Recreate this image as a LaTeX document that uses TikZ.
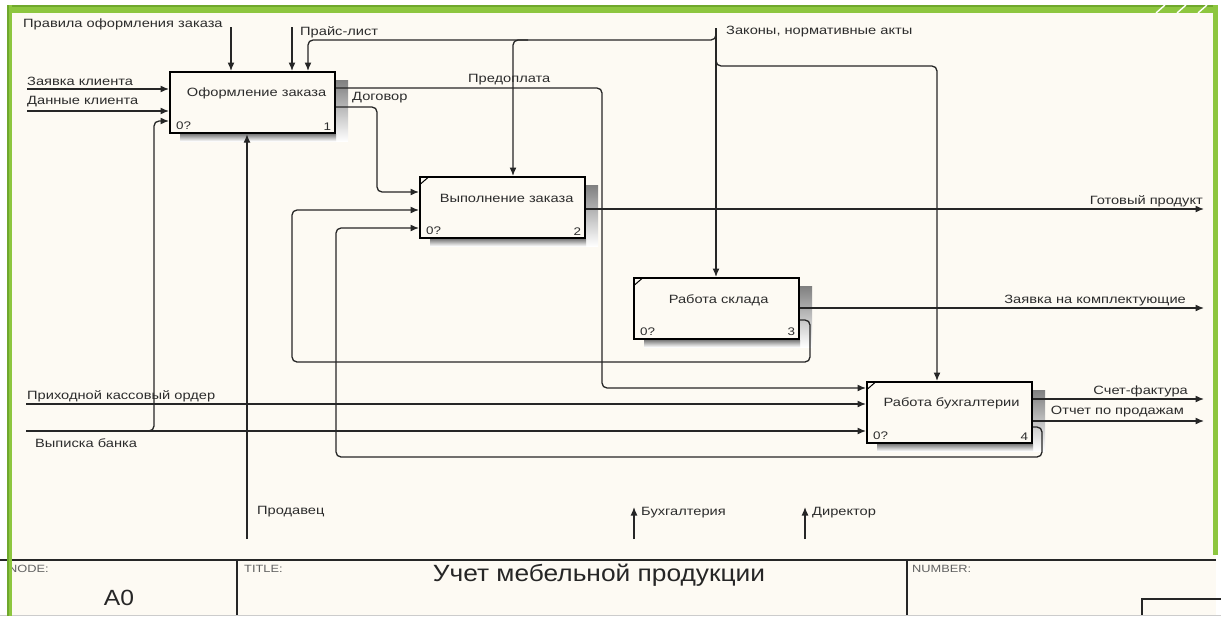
\documentclass[tikz,border=0pt]{standalone}
\usepackage{fontspec}
\setmainfont{Liberation Sans}
\newfontfamily\labfont{Liberation Sans}[FakeStretch=1.22]
\newfontfamily\headfont{Liberation Sans}[FakeStretch=1.12]
\usetikzlibrary{arrows.meta,patterns,calc}

\definecolor{paper}{HTML}{FDFAF3}
\definecolor{ink}{HTML}{262626}
\definecolor{txt}{HTML}{2C2C2C}
\definecolor{frameg}{HTML}{8DC63F}
\definecolor{framegd}{HTML}{6FA82C}
\definecolor{shade}{HTML}{ABABAB}

\tikzset{
  flow/.style={draw=ink, line width=1.3pt, rounded corners=5pt},
  arr/.style={flow, -{Latex[length=8.5pt,width=7pt]}},
  box/.style={draw=black, line width=2.2pt, fill=paper, minimum width=165pt,
    minimum height=61pt, anchor=north west, inner sep=0pt},
  boxtitle/.style={font=\labfont\fontsize{12pt}{14pt}\selectfont, text=txt, inner sep=0pt},
  lab/.style={font=\labfont\fontsize{12pt}{14pt}\selectfont, text=txt, inner sep=0pt},
  num/.style={font=\labfont\fontsize{11pt}{13pt}\selectfont, text=txt, inner sep=0pt},
  corner/.style={draw=black, line width=1pt},
  tb/.style={draw=ink, line width=1.2pt},
  tbsmall/.style={font=\labfont\fontsize{10.5pt}{12pt}\selectfont, text=txt!75, inner sep=0pt},
}

\begin{document}
\begin{tikzpicture}[x=1pt, y=-1pt]
\useasboundingbox (0,0) rectangle (1221,616);
% page and sheet background
\fill[white] (0,0) rectangle (1221,616);
\fill[paper] (10,10) rectangle (1216,616);

% activity boxes
\node[box] (b1) at (169,71) {};
\node[box] (b2) at (419,176) {};
\node[box] (b3) at (633,277) {};
\node[box] (b4) at (866,381) {};

% shaded shadows on the right and bottom sides
\foreach \b in {b1,b2,b3,b4}{
  \fill[shade] ($(\b.north east)+(0,9)$) rectangle ($(\b.south east)+(12,7)$);
  \fill[shade] ($(\b.south west)+(11,0)$) rectangle ($(\b.south east)+(0,7)$);
}
\node[box, fill=none] at (169,71) {};
\node[box, fill=none] at (419,176) {};
\node[box, fill=none] at (633,277) {};
\node[box, fill=none] at (866,381) {};

% box titles and numbers
\node[boxtitle] (b1t) at ($(b1.center)+(4,-9)$) {Оформление заказа};
\node[boxtitle] (b2t) at ($(b2.center)+(4,-9)$) {Выполнение заказа};
\node[boxtitle] (b3t) at ($(b3.center)+(2,-8)$) {Работа склада};
\node[boxtitle] (b4t) at ($(b4.center)+(2,-9)$) {Работа бухгалтерии};
\foreach \b/\n in {b1/1,b2/2,b3/3,b4/4}{
  \node[num, anchor=south west] (\b q) at ($(\b.south west)+(7,-4)$) {0?};
  \node[num, anchor=south east] (\b n) at ($(\b.south east)+(-5,-4)$) {\n};
}
% corner marks of boxes 2-4
\foreach \b in {b2,b3,b4}{
  \draw[corner] ($(\b.north west)+(1.5,8)$) -- ($(\b.north west)+(9,1.5)$);
}

% ---- inputs of box 1
\coordinate (zk) at (27,89);
\coordinate (dk) at (27,111);
\draw[arr] (zk) -- (b1.west |- zk);
\draw[arr] (dk) -- (b1.west |- dk);
\coordinate (vbj) at (142,431);
\coordinate (vbt) at (154,121);
\draw[arr] (vbj) -| (vbt) -- (b1.west |- vbt);

% ---- controls
\coordinate (pr) at (231,27);
\coordinate (pl) at (292,27);
\draw[arr] (pr) -- (b1.north -| pr);
\draw[arr] (pl) -- (b1.north -| pl);
\coordinate (zak) at (716,28);
\coordinate (zk1) at (308,40);
\draw[arr] (zak) |- (zk1) -- (b1.north -| zk1);
\coordinate (zk2s) at (528,40);
\coordinate (zk2) at (513,40);
\draw[arr] (zk2s) -- (zk2) -- (b2.north -| zk2);
\draw[arr] (zak) -- (b3.north -| zak);
\coordinate (zk4s) at (716,54);
\coordinate (zk4) at (937,66);
\draw[arr] (zk4s) |- (zk4) -- (b4.north -| zk4);

% ---- mechanism of box 1
\coordinate (prod) at (247,539);
\draw[arr] (prod) -- (b1.south -| prod);

% ---- outputs of box 1
\coordinate (pp) at (602,388);
\draw[arr] (b1.east |- 0,88) -| (pp) -- (b4.west |- pp);
\coordinate (dg) at (377,192);
\draw[arr] (b1.east |- 0,107) -| (dg) -- (b2.west |- dg);

% ---- feedback into box 2
\coordinate (l3a) at (810,362);
\coordinate (l3b) at (292,210);
\draw[arr] (b3.east |- 0,320) -| (l3a) -| (l3b) -- (b2.west |- l3b);
\coordinate (l4a) at (1042,457);
\coordinate (l4b) at (336,228);
\draw[arr] (b4.east |- 0,427) -| (l4a) -| (l4b) -- (b2.west |- l4b);

% ---- outputs to the right
\coordinate (gp) at (1204,209);
\coordinate (zkm) at (1204,308);
\coordinate (sf) at (1204,399);
\coordinate (op) at (1204,421);
\draw[arr] (b2.east |- gp) -- (gp);
\draw[arr] (b3.east |- zkm) -- (zkm);
\draw[arr] (b4.east |- sf) -- (sf);
\draw[arr] (b4.east |- op) -- (op);

% ---- inputs of box 4
\coordinate (pko) at (26,404);
\coordinate (vb) at (26,431);
\draw[arr] (pko) -- (b4.west |- pko);
\draw[arr] (vb) -- (b4.west |- vb);

% ---- free mechanisms
\coordinate (bu0) at (634,539);
\coordinate (bu1) at (634,507);
\coordinate (di0) at (805,539);
\coordinate (di1) at (805,507);
\draw[arr] (bu0) -- (bu1);
\draw[arr] (di0) -- (di1);

% ---- arrow labels
\node[lab, anchor=west] (tpr) at (23,24) {Правила оформления заказа};
\node[lab, anchor=west] (tpl) at (300,32) {Прайс-лист};
\node[lab, anchor=west] (tzak) at (726,32) {Законы, нормативные акты};
\node[lab, anchor=west] (tzk) at (27,81) {Заявка клиента};
\node[lab, anchor=west] (tdk) at (27,102) {Данные клиента};
\node[lab, anchor=west] (tpp) at (468,80) {Предоплата};
\node[lab, anchor=west] (tdg) at (352,98) {Договор};
\node[lab, anchor=east] (tgp) at (1203,201) {Готовый продукт};
\node[lab, anchor=east] (tzkm) at (1186,301) {Заявка на комплектующие};
\node[lab, anchor=west] (tpko) at (27,396) {Приходной кассовый ордер};
\node[lab, anchor=west] (tvb) at (35,443) {Выписка банка};
\node[lab, anchor=east] (tsf) at (1188,391) {Счет-фактура};
\node[lab, anchor=east] (top) at (1184,412) {Отчет по продажам};
\node[lab, anchor=west] (tprod) at (257,512) {Продавец};
\node[lab, anchor=west] (tbu) at (641,513) {Бухгалтерия};
\node[lab, anchor=west] (tdi) at (812,513) {Директор};

% ---- title block
\draw[tb] (0,560) -- (1216,560);
\draw[tb] (237,560) -- (237,616);
\draw[tb] (907,560) -- (907,616);
\draw[tb] (1142,616) |- (1221,599);
\draw[gray!40, line width=1pt] (0,615.5) -- (1221,615.5);
\node[tbsmall, anchor=west] (tnode) at (8,569) {NODE:};
\node[font=\headfont\fontsize{22pt}{24pt}\selectfont, text=black!85, inner sep=0pt] (tA0) at (119,598) {A0};
\node[tbsmall, anchor=west] (ttitle) at (244,569) {TITLE:};
\node[font=\headfont\fontsize{23.5pt}{26pt}\selectfont, text=black!85, inner sep=0pt] (tname) at (599,575) {Учет мебельной продукции};
\node[tbsmall, anchor=west] (tnum) at (912,569) {NUMBER:};

% ---- green sheet frame
\fill[frameg] (7,5) rectangle (1218,13);
\fill[framegd] (7,5) rectangle (1218,6.5);
\fill[frameg] (7,5) rectangle (12,616);
\fill[framegd] (7,5) rectangle (8.5,616);
\fill[frameg] (1213,5) rectangle (1218,555);
\foreach \s in {1156,1177,1198}{
  \draw[white, line width=1.4pt] (\s,13) -- (\s+9,5);
}
\end{tikzpicture}
\end{document}
